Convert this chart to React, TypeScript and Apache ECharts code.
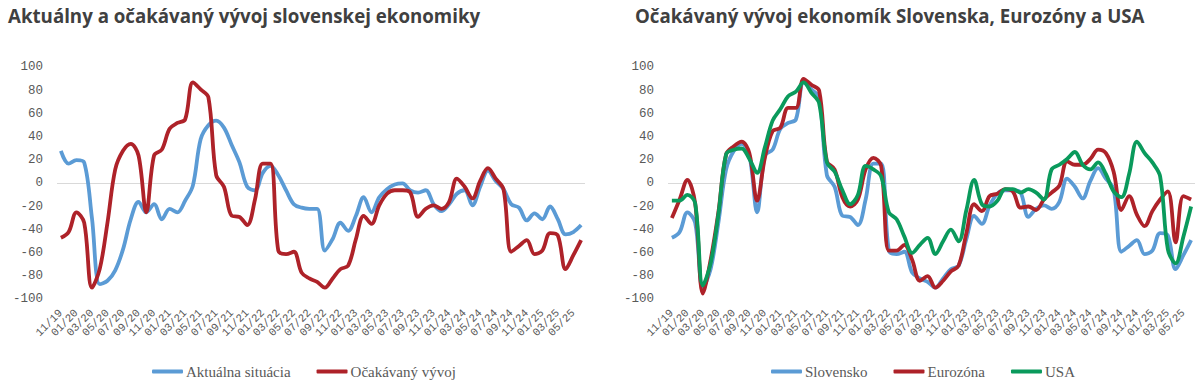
import React, { useEffect, useRef } from "react";
import * as echarts from "echarts";

const months: string[] = [
  "11/19", "12/19",
  "01/20", "02/20", "03/20", "04/20", "05/20", "06/20", "07/20", "08/20", "09/20", "10/20", "11/20", "12/20",
  "01/21", "02/21", "03/21", "04/21", "05/21", "06/21", "07/21", "08/21", "09/21", "10/21", "11/21", "12/21",
  "01/22", "02/22", "03/22", "04/22", "05/22", "06/22", "07/22", "08/22", "09/22", "10/22", "11/22", "12/22",
  "01/23", "02/23", "03/23", "04/23", "05/23", "06/23", "07/23", "08/23", "09/23", "10/23", "11/23", "12/23",
  "01/24", "02/24", "03/24", "04/24", "05/24", "06/24", "07/24", "08/24", "09/24", "10/24", "11/24", "12/24",
  "01/25", "02/25", "03/25", "04/25", "05/25", "06/25",
];

const yTicks = { min: -100, max: 100, interval: 20 };

// Left chart
const aktualnaSituacia: number[] = [
  28, 17, 20, 18, -30, -87, -84, -75, -57, -31, -16, -25, -18, -31, -22, -25, -15, -2, 38, 50, 54, 48, 33,
  18, -3, -6, 9, 15, 7, -6, -18, -21, -22, -22, -58, -48, -34, -41, -28, -12, -25, -12, -5, -1, 0,
  -6, -8, -6, -18, -24, -18, -9, -6, -19, -3, 11, 2, -5, -18, -21, -32, -26, -31, -20, -31, -44, -42, -36,
];
const ocakavanyVyvoj: number[] = [
  -47, -42, -25, -34, -90, -74, -34, 12, 28, 34, 24, -25, 24, 29, 47, 52, 55, 87, 81, 74, 7, -3, -28,
  -29, -36, -14, 17, 17, -58, -61, -59, -77, -82, -85, -90, -82, -74, -71, -48, -28, -35, -19, -9, -6, -6,
  -8, -29, -22, -19, -22, -16, 4, -3, -13, 2, 13, 4, -5, -59, -54, -49, -61, -58, -43, -45, -74, -62, -49,
];

// Right chart
const slovensko: number[] = ocakavanyVyvoj;
const eurozona: number[] = [
  -30, -14, 3, -17, -95, -66, -25, 25, 32, 36, 26, -15, 22, 45, 48, 65, 65, 90, 85, 80, 19, 12, -12,
  -20, -14, 12, 22, 15, -58, -58, -53, -66, -84, -80, -90, -84, -76, -71, -43, -18, -24, -11, -9, -5, -7,
  -21, -20, -23, -14, -8, -2, 19, 16, 16, 21, 29, 26, 10, -23, -11, -27, -37, -24, -14, -7, -51, -11, -14,
];
const usa: number[] = [
  -15, -15, -10, -17, -88, -69, -27, 25, 29, 30, 21, 9, 31, 54, 64, 75, 79, 87, 78, 69, 18, 10, -6,
  -18, -10, 15, 12, 6, -25, -31, -46, -60, -53, -47, -61, -50, -40, -50, -23, 3, -18, -20, -15, -5, -5,
  -8, -5, -8, -14, 12, 16, 21, 27, 16, 12, 18, 8, -7, -12, 8, 36, 26, 18, 6, -57, -69, -46, -20,
];

const titleLeft = "Aktuálny a očakávaný vývoj slovenskej ekonomiky";
const titleRight = "Očakávaný vývoj ekonomík Slovenska, Eurozóny a USA";

const BLUE = "#5B9BD5";
const RED = "#AE2229";
const GREEN = "#0A9A5C";
const TEXT = "#595959";
const MONO = "Liberation Mono";
const SERIF = "Liberation Serif";
const TITLE_FONT = "Open Sans";

export default function App() {
  const ref = useRef<HTMLDivElement>(null);
  useEffect(() => {
    if (!ref.current) return;
    const chart = echarts.init(ref.current, null, { renderer: "svg" });

    const xAxisBase = (gridIndex: number) => ({
      type: "category" as const,
      gridIndex,
      data: months,
      boundaryGap: true,
      axisLine: { show: false, onZero: false },
      axisTick: { show: false },
      splitLine: { show: false },
      axisLabel: {
        interval: 1,
        rotate: 45,
        margin: 12,
        color: TEXT,
        fontFamily: MONO,
        fontSize: 11,
      },
    });
    const yAxisBase = (gridIndex: number) => ({
      type: "value" as const,
      gridIndex,
      min: yTicks.min,
      max: yTicks.max,
      interval: yTicks.interval,
      axisLine: { show: false },
      axisTick: { show: false },
      splitLine: { show: false },
      axisLabel: {
        margin: 14,
        color: TEXT,
        fontFamily: MONO,
        fontSize: 12.5,
      },
    });
    const zeroLine = {
      silent: true,
      symbol: "none",
      z: 1,
      label: { show: false },
      lineStyle: { color: "#D9D9D9", width: 1, type: "solid" as const },
      data: [{ yAxis: 0 }],
    };
    const lineSeries = (name: string, data: number[], color: string, idx: number, withZero: boolean) => ({
      type: "line" as const,
      name,
      data,
      xAxisIndex: idx,
      yAxisIndex: idx,
      smooth: 0.35,
      showSymbol: false,
      symbol: "none",
      z: 3,
      lineStyle: { color, width: 3.8 },
      itemStyle: { color },
      markLine: withZero ? zeroLine : undefined,
    });

    const legendBase = {
      bottom: 1,
      itemWidth: 31,
      itemHeight: 4,
      itemGap: 26,
      icon: "roundRect",
      textStyle: { color: TEXT, fontFamily: SERIF, fontSize: 15, padding: [0, 0, 0, -2] },
    };

    const titleStyle = { color: "#404040", fontFamily: TITLE_FONT, fontWeight: "bold" as const, fontSize: 18.7 };

    chart.setOption({
      animation: false,
      backgroundColor: "#ffffff",
      title: [
        { text: titleLeft, left: 3, top: 1, textStyle: titleStyle },
        { text: titleRight, left: 630, top: 1, textStyle: titleStyle },
      ],
      legend: [
        { ...legendBase, left: 147, data: ["Aktuálna situácia", "Očakávaný vývoj"] },
        { ...legendBase, left: 766, data: ["Slovensko", "Eurozóna", "USA"] },
      ],
      grid: [
        { left: 57, top: 67.3, width: 528, height: 232 },
        { left: 668, top: 67.3, width: 527, height: 232 },
      ],
      xAxis: [xAxisBase(0), xAxisBase(1)],
      yAxis: [yAxisBase(0), yAxisBase(1)],
      series: [
        lineSeries("Aktuálna situácia", aktualnaSituacia, BLUE, 0, true),
        lineSeries("Očakávaný vývoj", ocakavanyVyvoj, RED, 0, false),
        lineSeries("Slovensko", slovensko, BLUE, 1, true),
        lineSeries("Eurozóna", eurozona, RED, 1, false),
        lineSeries("USA", usa, GREEN, 1, false),
      ],
    });
    return () => chart.dispose();
  }, []);

  return (
    <div
      ref={ref}
      style={{ position: "fixed", left: 0, top: 0, width: 1203, height: 385, background: "#fff" }}
    />
  );
}
